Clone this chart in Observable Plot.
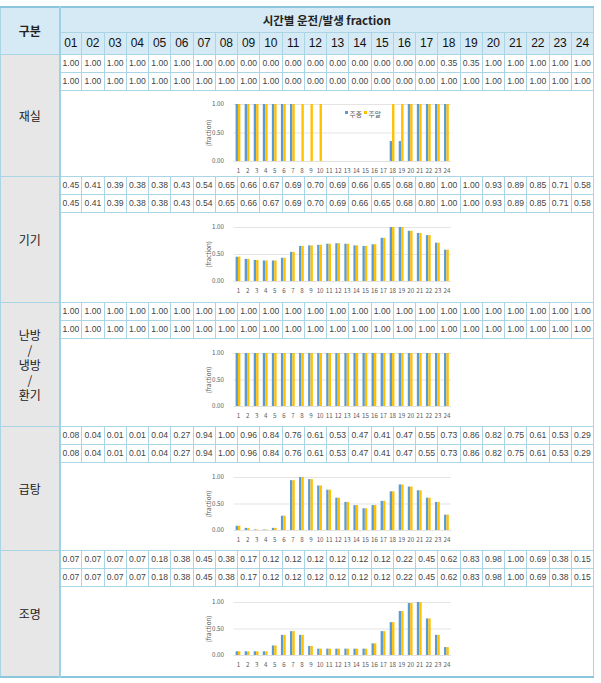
<!DOCTYPE html>
<html><head><meta charset="utf-8">
<script src="https://cdn.jsdelivr.net/npm/d3@7"></script>
<script src="https://cdn.jsdelivr.net/npm/@observablehq/plot@0.6"></script>
<style>
body{margin:0;background:#fff;}
#wrap{position:relative;width:601px;height:683px;overflow:hidden;}
table{position:absolute;left:0;top:6px;border-collapse:collapse;table-layout:fixed;width:593px;border-top:2px solid #8cc6de;border-bottom:2px solid #8cc6de;}
td,th{border:1px solid #aad5e6;padding:0;text-align:center;overflow:hidden;white-space:nowrap;}
th{background:#d5eaf4;color:#222;font-family:"Noto Sans CJK KR","Liberation Sans",sans-serif;font-weight:600;}
th.title{font-size:11.5px;}
th.hour{font-family:"Liberation Sans Narrow","Liberation Sans",sans-serif;font-size:12px;font-weight:normal;color:#111;}
th.corner{font-size:12px;font-weight:bold;border-right:2px solid #9fd0e3;}
td.val{font-family:"Liberation Sans Narrow","Liberation Sans",sans-serif;font-size:8.6px;color:#444;}
td.cat{background:#e7e7e8;font-family:"Noto Sans CJK KR",sans-serif;font-size:12px;color:#222;white-space:pre-line;line-height:15px;border-right:2px solid #9fd0e3;}
td.chart{position:relative;}
td.chart div.holder{position:relative;width:100%;height:100%;}
td.chart svg{position:absolute;left:131px;top:0;overflow:visible;}
</style>
</head><body><div id="wrap"></div>
<script>
// ---- data ----
const hours = ["01","02","03","04","05","06","07","08","09","10","11","12","13","14","15","16","17","18","19","20","21","22","23","24"];
const seriesNames = ["주중","주말"];
const headerCorner = "구분";
const headerTitle = "시간별 운전/발생 fraction";
const categories = ["재실","기기","난방\n/\n냉방\n/\n환기","급탕","조명"];
const yTicks = [0, 0.5, 1];
const yLabel = "(fraction)";

const occWeekday   = [1.00,1.00,1.00,1.00,1.00,1.00,1.00,0.00,0.00,0.00,0.00,0.00,0.00,0.00,0.00,0.00,0.00,0.35,0.35,1.00,1.00,1.00,1.00,1.00];
const occWeekend   = [1.00,1.00,1.00,1.00,1.00,1.00,1.00,1.00,1.00,1.00,0.00,0.00,0.00,0.00,0.00,0.00,0.00,1.00,1.00,1.00,1.00,1.00,1.00,1.00];
const equipWeekday = [0.45,0.41,0.39,0.38,0.38,0.43,0.54,0.65,0.66,0.67,0.69,0.70,0.69,0.66,0.65,0.68,0.80,1.00,1.00,0.93,0.89,0.85,0.71,0.58];
const equipWeekend = [0.45,0.41,0.39,0.38,0.38,0.43,0.54,0.65,0.66,0.67,0.69,0.70,0.69,0.66,0.65,0.68,0.80,1.00,1.00,0.93,0.89,0.85,0.71,0.58];
const hvacWeekday  = [1.00,1.00,1.00,1.00,1.00,1.00,1.00,1.00,1.00,1.00,1.00,1.00,1.00,1.00,1.00,1.00,1.00,1.00,1.00,1.00,1.00,1.00,1.00,1.00];
const hvacWeekend  = [1.00,1.00,1.00,1.00,1.00,1.00,1.00,1.00,1.00,1.00,1.00,1.00,1.00,1.00,1.00,1.00,1.00,1.00,1.00,1.00,1.00,1.00,1.00,1.00];
const dhwWeekday   = [0.08,0.04,0.01,0.01,0.04,0.27,0.94,1.00,0.96,0.84,0.76,0.61,0.53,0.47,0.41,0.47,0.55,0.73,0.86,0.82,0.75,0.61,0.53,0.29];
const dhwWeekend   = [0.08,0.04,0.01,0.01,0.04,0.27,0.94,1.00,0.96,0.84,0.76,0.61,0.53,0.47,0.41,0.47,0.55,0.73,0.86,0.82,0.75,0.61,0.53,0.29];
const lightWeekday = [0.07,0.07,0.07,0.07,0.18,0.38,0.45,0.38,0.17,0.12,0.12,0.12,0.12,0.12,0.12,0.22,0.45,0.62,0.83,0.98,1.00,0.69,0.38,0.15];
const lightWeekend = [0.07,0.07,0.07,0.07,0.18,0.38,0.45,0.38,0.17,0.12,0.12,0.12,0.12,0.12,0.12,0.22,0.45,0.62,0.83,0.98,1.00,0.69,0.38,0.15];

// ---- layout / style ----
const BLUE = "#5b9bd5", GOLD = "#ffc000", GRID = "#d9d9d9", TXT = "#595959";
const headerH = [25, 22];
const valueRowH = 18;
const chartRowH = [85, 89, 87, 87, 89];
const plotH = [57, 54, 53, 53, 53];
const plotTop = [13, 14, 14, 14, 15];

const groups = [
  {label: categories[0], wd: occWeekday,   we: occWeekend,   legend: true},
  {label: categories[1], wd: equipWeekday, we: equipWeekend},
  {label: categories[2], wd: hvacWeekday,  we: hvacWeekend},
  {label: categories[3], wd: dhwWeekday,   we: dhwWeekend},
  {label: categories[4], wd: lightWeekday, we: lightWeekend}
];

function makeChart(g, idx) {
  const data = hours.map((h, i) => ({hour: +h, wd: g.wd[i], we: g.we[i]}));
  const ML = 41.5, MR = 4, MB = 20, W = 263;
  const marks = [
    Plot.gridY(yTicks.filter(t => t > 0), {stroke: GRID, strokeOpacity: 1, strokeWidth: 0.7}),
    Plot.barY(data, {x: "hour", y: "wd", fill: BLUE, insetLeft: 2.1, insetRight: 4.6}),
    Plot.barY(data, {x: "hour", y: "we", fill: GOLD, insetLeft: 4.5, insetRight: 2.2}),
    Plot.ruleY([0], {stroke: GRID, strokeWidth: 0.8}),
    Plot.axisY({ticks: yTicks, tickFormat: d3.format(".2f"), tickSize: 0, tickPadding: 10,
      label: yLabel, labelAnchor: "center", labelArrow: "none", labelOffset: 27, fill: TXT, fontSize: 6.2}),
    Plot.axisX({tickSize: 0, tickPadding: 7, label: null, fill: TXT, fontSize: 6.2})
  ];
  if (g.legend) {
    marks.push(
      Plot.dot([seriesNames[0]], {frameAnchor: "top-right", dx: -105, dy: 8, symbol: "square", r: 1.7, fill: BLUE, stroke: null}),
      Plot.text([seriesNames[0]], {frameAnchor: "top-right", dx: -102, dy: 8, text: d => d, textAnchor: "start", fill: TXT, fontSize: 6.8}),
      Plot.dot([seriesNames[1]], {frameAnchor: "top-right", dx: -86, dy: 8, symbol: "square", r: 1.7, fill: GOLD, stroke: null}),
      Plot.text([seriesNames[1]], {frameAnchor: "top-right", dx: -83, dy: 8, text: d => d, textAnchor: "start", fill: TXT, fontSize: 6.8})
    );
  }
  return Plot.plot({
    width: W, height: plotTop[idx] + plotH[idx] + MB,
    marginTop: plotTop[idx], marginBottom: MB, marginLeft: ML, marginRight: MR,
    x: {type: "band", domain: data.map(d => d.hour), padding: 0, round: false},
    y: {domain: [0, 1]},
    style: {fontFamily: "'Noto Sans CJK KR','Liberation Sans',sans-serif", fontSize: "6.2px", color: TXT, background: "transparent", overflow: "visible"},
    marks
  });
}

const wrap = document.getElementById("wrap");
const table = document.createElement("table");
const colgroup = document.createElement("colgroup");
const c0 = document.createElement("col"); c0.style.width = "59px"; colgroup.appendChild(c0);
hours.forEach(() => { const c = document.createElement("col"); c.style.width = ((593 - 59) / 24) + "px"; colgroup.appendChild(c); });
table.appendChild(colgroup);

const tr1 = document.createElement("tr"); tr1.style.height = headerH[0] + "px";
const thc = document.createElement("th"); thc.rowSpan = 2; thc.className = "corner"; thc.textContent = headerCorner; tr1.appendChild(thc);
const tht = document.createElement("th"); tht.colSpan = 24; tht.className = "title"; tht.textContent = headerTitle; tr1.appendChild(tht);
table.appendChild(tr1);
const tr2 = document.createElement("tr"); tr2.style.height = headerH[1] + "px";
hours.forEach(h => { const th = document.createElement("th"); th.className = "hour"; th.textContent = h; tr2.appendChild(th); });
table.appendChild(tr2);

const fmt = d3.format(".2f");
groups.forEach((g, gi) => {
  [g.wd, g.we].forEach((vals, si) => {
    const tr = document.createElement("tr"); tr.style.height = valueRowH + "px";
    if (si === 0) {
      const td = document.createElement("td"); td.rowSpan = 3; td.className = "cat"; td.textContent = g.label; tr.appendChild(td);
    }
    vals.forEach(v => { const td = document.createElement("td"); td.className = "val"; td.textContent = fmt(v); tr.appendChild(td); });
    table.appendChild(tr);
  });
  const tr = document.createElement("tr"); tr.style.height = chartRowH[gi] + "px";
  const td = document.createElement("td"); td.colSpan = 24; td.className = "chart";
  const holder = document.createElement("div"); holder.className = "holder"; holder.style.height = chartRowH[gi] + "px";
  holder.appendChild(makeChart(g, gi));
  td.appendChild(holder); tr.appendChild(td);
  table.appendChild(tr);
});
wrap.appendChild(table);
</script>
</body></html>
